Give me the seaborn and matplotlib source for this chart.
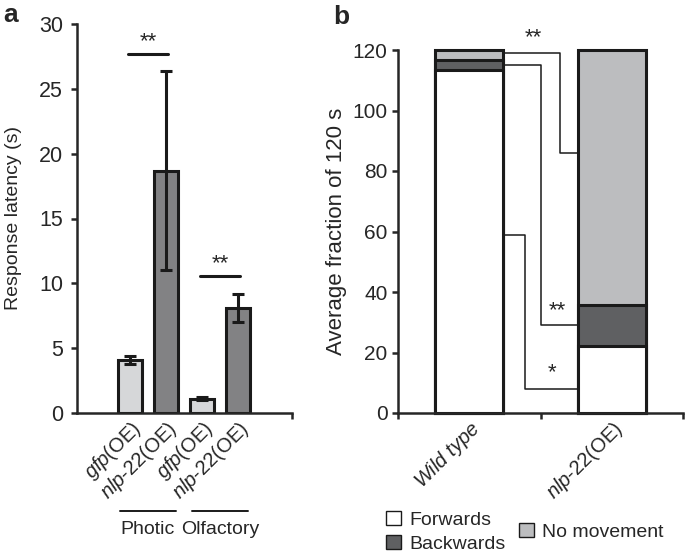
import matplotlib
matplotlib.use("Agg")
import matplotlib.pyplot as plt
import matplotlib.transforms as mtransforms
from matplotlib.patches import Patch
import seaborn as sns

# ---- data: panel a (response latency) ----
cond_ids = ["photic_gfp", "photic_nlp", "olf_gfp", "olf_nlp"]
cond_labels = [r"$\it{gfp}$(OE)", r"$\it{nlp}$-$\it{22}$(OE)",
               r"$\it{gfp}$(OE)", r"$\it{nlp}$-$\it{22}$(OE)"]
latency = [4.1, 18.7, 1.1, 8.1]
latency_err = [0.3, 7.65, 0.1, 1.1]
groups = ["Photic", "Olfactory"]
sig_a_pairs = [(0, 1), (2, 3)]
sig_a_y = [27.7, 10.6]

# ---- data: panel b (fraction of 120 s) ----
genotypes = ["Wild type", "nlp-22(OE)"]
geno_labels = [r"$\it{Wild\ type}$", r"$\it{nlp}$-$\it{22}$(OE)"]
forwards = [113.3, 22.2]
backwards = [3.4, 13.6]
no_movement = [3.3, 84.2]
# bracket levels (wild type side, nlp-22 side), stars
sig_b_left = [119.0, 115.2, 58.8]
sig_b_right = [85.8, 29.2, 7.8]
sig_b_xmid = [0.64, 0.50, 0.39]
sig_b_text = ["**", "**", "*"]

sns.set_style("ticks")
plt.rcParams["font.family"] = ["Liberation Sans", "DejaVu Sans"]
plt.rcParams["mathtext.fontset"] = "custom"
plt.rcParams["mathtext.it"] = "Liberation Sans:italic"
plt.rcParams["mathtext.rm"] = "Liberation Sans"

FS = 14
TFS = 14.5
light = "#d6d7d9"
dark = "#818285"
ink = "#1a1a1a"

fig = plt.figure(figsize=(6.85, 5.55), dpi=100)

# ================= panel a =================
ax = fig.add_axes([77 / 685, 142 / 555, 215 / 685, 389 / 555])
sns.barplot(x=cond_ids, y=latency, hue=cond_ids, order=cond_ids,
            palette=[light, dark, light, dark], legend=False,
            edgecolor=ink, linewidth=2.2, width=0.69, errorbar=None, ax=ax)
ax.errorbar(range(len(latency)), latency, yerr=latency_err, fmt="none",
            ecolor=ink, elinewidth=2.2, capsize=4, capthick=2.2)
ax.set_xlim(-1.47, 4.5)
ax.set_ylim(0, 30)
ax.set_yticks([0, 5, 10, 15, 20, 25, 30])
ax.set_xticks(range(len(cond_labels)))
ax.set_xticklabels(cond_labels, rotation=45, ha="right", va="top",
                   rotation_mode="anchor", fontsize=TFS)
ax.tick_params(axis="x", length=0, pad=3)
ax.tick_params(axis="y", labelsize=15.5, width=1.8, length=4, pad=6)
ax.set_xticks([4.5], minor=True)
ax.tick_params(axis="x", which="minor", length=4, width=1.8)
ax.set_ylabel("Response latency (s)", fontsize=FS, labelpad=12)
ax.set_xlabel("")
for s in ["top", "right"]:
    ax.spines[s].set_visible(False)
for s in ["left", "bottom"]:
    ax.spines[s].set_linewidth(1.8)

for (i, j), y in zip(sig_a_pairs, sig_a_y):
    ax.plot([i - 0.05, j + 0.05], [y, y], color=ink, lw=2.2, clip_on=False)
    ax.text((i + j) / 2, y + 0.1, "**", ha="center", va="bottom", fontsize=16)

blend = mtransforms.blended_transform_factory(ax.transData, fig.transFigure)
for k, g in enumerate(groups):
    c = 2 * k + 0.5
    ax.plot([c - 0.78, c + 0.78], [1 - 511 / 555] * 2, color=ink, lw=1.4,
            transform=blend, clip_on=False)
    ax.text(c, 1 - 529 / 555, g, ha="center", va="center", fontsize=FS,
            transform=blend)

fig.text(3 / 685, 1 - 15 / 555, "a", fontsize=19, fontweight="bold",
         ha="left", va="center")

# ================= panel b =================
bx = fig.add_axes([398 / 685, 142 / 555, 285 / 685, 363 / 555])
tot_top = [f + b + n for f, b, n in zip(forwards, backwards, no_movement)]
tot_mid = [f + b for f, b in zip(forwards, backwards)]
c_fwd, c_back, c_none = "#ffffff", "#5f6062", "#bcbdbf"
for vals, col in [(tot_top, c_none), (tot_mid, c_back), (forwards, c_fwd)]:
    sns.barplot(x=genotypes, y=vals, order=genotypes, color=col,
                edgecolor=ink, linewidth=2.2, width=0.48,
                errorbar=None, ax=bx)
for p in bx.patches:
    p.set_clip_on(False)
bx.set_xlim(-0.5, 1.5)
bx.set_ylim(0, 120)
bx.set_yticks([0, 20, 40, 60, 80, 100, 120])
bx.set_xticks(range(len(geno_labels)))
bx.set_xticklabels(geno_labels, rotation=45, ha="right", va="top",
                   rotation_mode="anchor", fontsize=TFS)
bx.tick_params(axis="x", length=0, pad=3)
bx.set_xticks([-0.5, 0.5, 1.5], minor=True)
bx.tick_params(axis="x", which="minor", length=4, width=1.8)
bx.tick_params(axis="y", labelsize=15, width=1.8, length=4)
bx.set_ylabel("Average fraction of 120 s", fontsize=16, labelpad=4)
bx.set_xlabel("")
for s in ["top", "right"]:
    bx.spines[s].set_visible(False)
for s in ["left", "bottom"]:
    bx.spines[s].set_linewidth(1.8)

half = 0.48 / 2
for yl, yr, xm in zip(sig_b_left, sig_b_right, sig_b_xmid):
    bx.plot([half, xm, xm, 1 - half], [yl, yl, yr, yr], color=ink,
            lw=1.1, clip_on=False)
ax_t = [(0.45, 120.5), (0.62, 30.5), (0.58, 10.0)]
for (tx, ty), t in zip(ax_t, sig_b_text):
    bx.text(tx, ty, t, ha="center", va="bottom", fontsize=16)

fig.text(333 / 685, 1 - 17 / 555, "b", fontsize=19, fontweight="bold",
         ha="left", va="center")

def box(col):
    return Patch(facecolor=col, edgecolor=ink, linewidth=1.0)

fig.legend([box(c_fwd), box(c_back)], ["Forwards", "Backwards"],
           loc="upper left", bbox_to_anchor=(386 / 685, 1 - 511 / 555),
           frameon=False, fontsize=FS, handlelength=0.75, handleheight=0.75,
           handletextpad=0.45, labelspacing=0.3, borderaxespad=0,
           borderpad=0)
fig.legend([box(c_none)], ["No movement"],
           loc="upper left", bbox_to_anchor=(519 / 685, 1 - 523 / 555),
           frameon=False, fontsize=FS, handlelength=0.75, handleheight=0.75,
           handletextpad=0.45, borderaxespad=0, borderpad=0)

fig.savefig("out.png", dpi=100)
